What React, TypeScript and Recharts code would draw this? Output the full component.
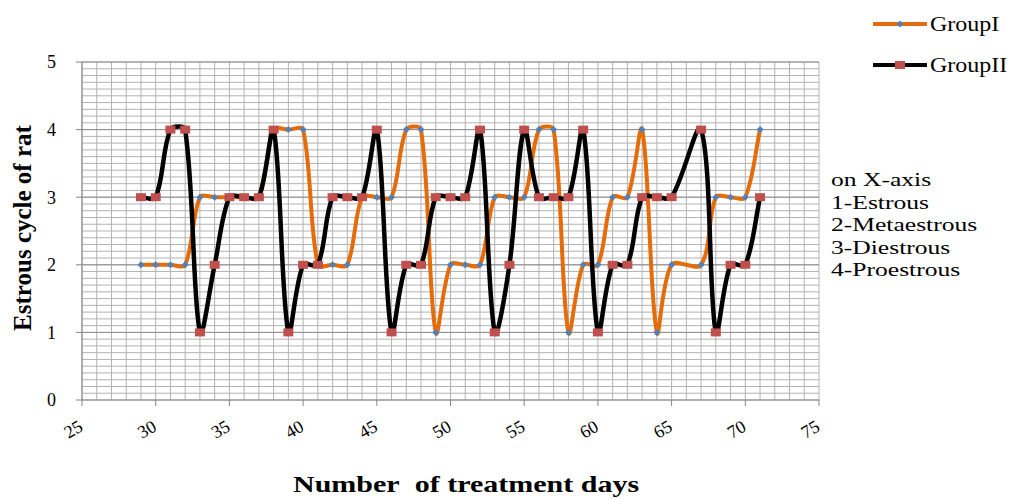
import React from 'react';
import { LineChart, Line, XAxis, YAxis, CartesianGrid, ReferenceLine } from 'recharts';

// treatment day (day 66 has no reading)
const days = [
  29, 30, 31, 32, 33, 34, 35, 36, 37, 38, 39, 40, 41, 42, 43, 44, 45, 46, 47, 48,
  49, 50, 51, 52, 53, 54, 55, 56, 57, 58, 59, 60, 61, 62, 63, 64, 65, 67, 68, 69, 70, 71,
];
const groupI = [
  2, 2, 2, 2, 3, 3, 3, 3, 3, 4, 4, 4, 2, 2, 2, 3, 3, 3, 4, 4,
  1, 2, 2, 2, 3, 3, 3, 4, 4, 1, 2, 2, 3, 3, 4, 1, 2, 2, 3, 3, 3, 4,
];
const groupII = [
  3, 3, 4, 4, 1, 2, 3, 3, 3, 4, 1, 2, 2, 3, 3, 3, 4, 1, 2, 2,
  3, 3, 3, 4, 1, 2, 4, 3, 3, 3, 4, 1, 2, 2, 3, 3, 3, 4, 1, 2, 2, 3,
];

const xMajorTicks = [25, 30, 35, 40, 45, 50, 55, 60, 65, 70, 75];
const yMajorTicks = [0, 1, 2, 3, 4, 5];
const stageNotes = ['on X-axis', '1-Estrous', '2-Metaestrous', '3-Diestrous', '4-Proestrous'];
const seriesNames = ['GroupI', 'GroupII'];

const ORANGE = '#E46C0A';
const BLUE = '#4F81BD';
const RED = '#C0504D';
const AXIS = '#868686';
const FONT = '"Liberation Serif", "Times New Roman", serif';

// minor grid: every day, every 0.1 unit
const xGridTicks: number[] = [];
for (let d = 25; d <= 75; d++) xGridTicks.push(d);
const yGridTicks: number[] = [];
for (let i = 0; i <= 50; i++) yGridTicks.push(Math.round(i) / 10);

const chartData = days.map((day, i) => ({ day, g1: groupI[i], g2: groupII[i] }));

// Excel-like smoothed line: Catmull-Rom tangents, scaled by neighbouring segment lengths
function excelCurve(context: any) {
  let pts: number[][] = [];
  return {
    areaStart() {},
    areaEnd() {},
    lineStart() {
      pts = [];
    },
    point(x: number, y: number) {
      pts.push([+x, +y]);
    },
    lineEnd() {
      const n = pts.length;
      if (!n) return;
      context.moveTo(pts[0][0], pts[0][1]);
      if (n === 1) return;
      const ctrl = pts.map((p, i) => {
        const prev = pts[Math.max(i - 1, 0)];
        const next = pts[Math.min(i + 1, n - 1)];
        const tx = next[0] - prev[0];
        const ty = next[1] - prev[1];
        const d0 = Math.hypot(p[0] - prev[0], p[1] - prev[1]);
        const d1 = Math.hypot(next[0] - p[0], next[1] - p[1]);
        const s = d0 + d1 || 1;
        return {
          inX: p[0] - (tx * d0) / s / 3,
          inY: p[1] - (ty * d0) / s / 3,
          outX: p[0] + (tx * d1) / s / 3,
          outY: p[1] + (ty * d1) / s / 3,
        };
      });
      for (let i = 0; i < n - 1; i++) {
        context.bezierCurveTo(
          ctrl[i].outX, ctrl[i].outY,
          ctrl[i + 1].inX, ctrl[i + 1].inY,
          pts[i + 1][0], pts[i + 1][1]
        );
      }
    },
  };
}

const XTick = (props: any) => {
  const { x, y, payload } = props;
  if (!xMajorTicks.includes(payload.value)) return <g />;
  const ax = x + 2;
  const ay = y + 30;
  return (
    <g>
      <line x1={x} x2={x} y1={y} y2={y + 6} stroke={AXIS} />
      <text
        x={ax}
        y={ay}
        textAnchor="end"
        fontSize={18}
        fontFamily={FONT}
        fill="#000"
        transform={`rotate(-30 ${ax} ${ay})`}
      >
        {payload.value}
      </text>
    </g>
  );
};

const YTick = (props: any) => {
  const { x, y, payload } = props;
  if (!yMajorTicks.includes(payload.value)) return <g />;
  return (
    <g>
      <line x1={x - 6} x2={x} y1={y} y2={y} stroke={AXIS} />
      <text x={x - 26} y={y} dy="0.35em" textAnchor="end" fontSize={18} fontFamily={FONT} fill="#000">
        {payload.value}
      </text>
    </g>
  );
};

const DiamondDot = (p: any) => {
  if (p.cx == null || p.cy == null) return <g key={p.index} />;
  const { cx, cy } = p;
  return (
    <polygon
      key={p.index}
      points={`${cx},${cy - 3.5} ${cx + 3.5},${cy} ${cx},${cy + 3.5} ${cx - 3.5},${cy}`}
      fill={BLUE}
    />
  );
};

const SquareDot = (p: any) => {
  if (p.cx == null || p.cy == null) return <g key={p.index} />;
  return <rect key={p.index} x={p.cx - 5} y={p.cy - 4} width={10} height={8} fill={RED} />;
};

const stretched = (scale: number): React.CSSProperties => ({
  transform: `scaleX(${scale})`,
  transformOrigin: 'left center',
  whiteSpace: 'nowrap',
});

export default function App() {
  return (
    <div
      style={{
        position: 'absolute',
        left: 0,
        top: 0,
        width: 1013,
        height: 499,
        overflow: 'hidden',
        fontFamily: FONT,
        background: '#fff',
      }}
    >
      <LineChart width={1013} height={499} data={chartData} margin={{ top: 62, right: 194, bottom: 0, left: 0 }}>
        <CartesianGrid stroke="#b2b2b2" strokeWidth={1} />
        {yMajorTicks.slice(1).map((v) => (
          <ReferenceLine key={v} y={v} stroke="#8e8e8e" strokeWidth={1} />
        ))}
        <XAxis
          type="number"
          dataKey="day"
          domain={[25, 75]}
          ticks={xGridTicks}
          interval={0}
          tick={<XTick />}
          tickLine={false}
          tickSize={0}
          tickMargin={0}
          height={99}
          axisLine={{ stroke: AXIS }}
        />
        <YAxis
          type="number"
          domain={[0, 5]}
          ticks={yGridTicks}
          interval={0}
          tick={<YTick />}
          tickLine={false}
          tickSize={0}
          tickMargin={0}
          width={82}
          axisLine={{ stroke: AXIS }}
        />
        <Line
          dataKey="g1"
          name={seriesNames[0]}
          type={excelCurve as any}
          stroke={ORANGE}
          strokeWidth={4}
          dot={DiamondDot}
          activeDot={false}
          isAnimationActive={false}
        />
        <Line
          dataKey="g2"
          name={seriesNames[1]}
          type={excelCurve as any}
          stroke="#000"
          strokeWidth={4.5}
          dot={SquareDot}
          activeDot={false}
          isAnimationActive={false}
        />
      </LineChart>

      {/* y-axis title */}
      <div
        style={{
          position: 'absolute',
          left: 23,
          top: 228,
          transform: 'translate(-50%, -50%) rotate(-90deg)',
          fontSize: 25,
          fontWeight: 'bold',
          whiteSpace: 'nowrap',
        }}
      >
        Estrous cycle of rat
      </div>

      {/* x-axis title */}
      <div style={{ position: 'absolute', left: 293, top: 470, fontSize: 24, fontWeight: 'bold', lineHeight: '28px', ...stretched(1.25) }}>
        Number&nbsp; of treatment days
      </div>

      {/* legend */}
      {seriesNames.map((name, i) => {
        const top = i === 0 ? 24 : 65;
        return (
          <React.Fragment key={name}>
            <svg style={{ position: 'absolute', left: 872, top: top - 6 }} width={56} height={12}>
              <line x1={1} x2={55} y1={6} y2={6} stroke={i === 0 ? ORANGE : '#000'} strokeWidth={4} />
              {i === 0 ? (
                <polygon points="28,2.5 31.5,6 28,9.5 24.5,6" fill={BLUE} />
              ) : (
                <rect x={23} y={2} width={10} height={8} fill={RED} />
              )}
            </svg>
            <div style={{ position: 'absolute', left: 930, top: top - 12, fontSize: 20, lineHeight: '24px', ...stretched(1.2) }}>
              {name}
            </div>
          </React.Fragment>
        );
      })}

      {/* stage key */}
      <div style={{ position: 'absolute', left: 831, top: 169 }}>
        {stageNotes.map((t) => (
          <div key={t} style={{ fontSize: 18, lineHeight: '22.5px', height: 22.5, ...stretched(1.42) }}>
            {t}
          </div>
        ))}
      </div>
    </div>
  );
}
